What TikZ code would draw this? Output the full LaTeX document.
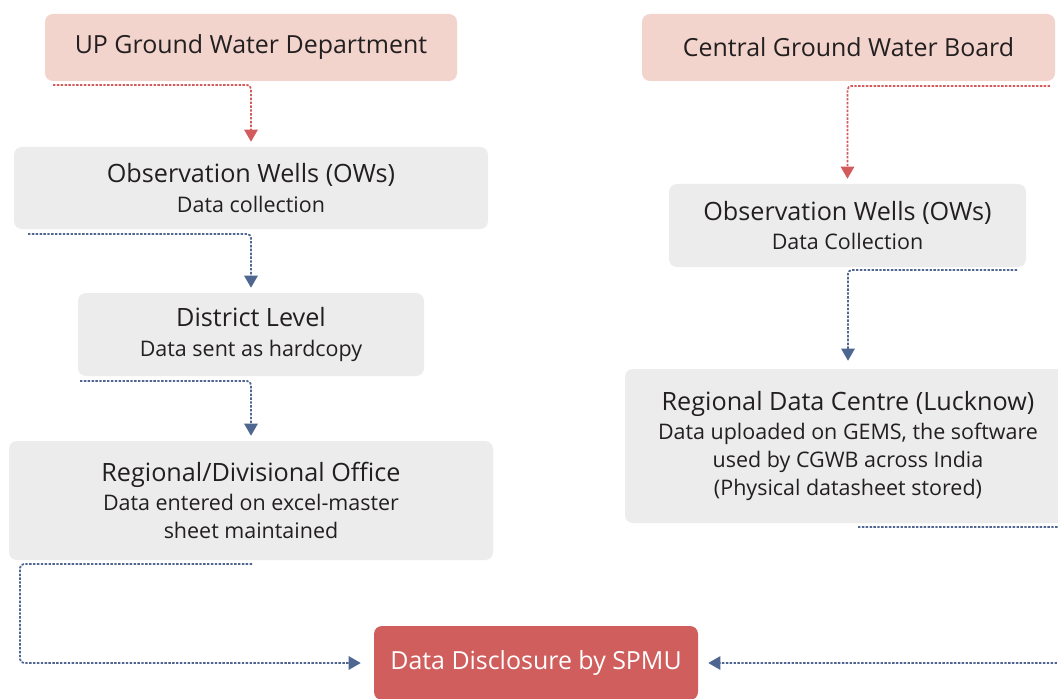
\documentclass[tikz,border=0pt]{standalone}
\usepackage{fontspec}
\setmainfont{Open Sans}
\usetikzlibrary{arrows.meta}
\definecolor{pinkbox}{HTML}{F2D4CC}
\definecolor{graybox}{HTML}{EBECEB}
\definecolor{redbox}{HTML}{CF5E5D}
\definecolor{redline}{HTML}{D45B5B}
\definecolor{blueline}{HTML}{4F6690}
\definecolor{txt}{HTML}{231F20}
\tikzset{
  box/.style={rounded corners=6pt, inner sep=0pt, align=center, text=txt, font=\fontsize{16.1}{21}\selectfont},
  pinkb/.style={box, fill=pinkbox, font=\fontsize{18.7}{22}\selectfont},
  grayb/.style={box, fill=graybox},
  spmub/.style={box, fill=redbox, text=white, font=\fontsize{18.7}{22}\selectfont},
  conn/.style={line width=1.35pt, dash pattern=on 1.8pt off 1.1pt, rounded corners=3pt, -{Triangle[width=10pt,length=9pt]}},
  redc/.style={conn, draw=redline, redline},
  bluec/.style={conn, draw=blueline, blueline},
}
\newcommand{\ttl}[1]{{\fontsize{18.9}{23}\selectfont #1}\\[1pt]}
\begin{document}
\begin{tikzpicture}[x=0.75pt,y=-0.75pt]
\useasboundingbox (0,0) rectangle (1058,699);
\clip (0,0) rectangle (1058,699);
\fill[white] (0,0) rectangle (1058,699);
% left column
\node[pinkb, minimum width=309pt, minimum height=50.25pt] (ugwd) at (251,47.5) {UP Ground Water Department};
\node[grayb, minimum width=355.5pt, minimum height=61.5pt] (ow1) at (251,188) {\ttl{Observation Wells (OWs)}Data collection};
\node[grayb, minimum width=259.5pt, minimum height=62.25pt] (dist) at (251,334.5) {\ttl{District Level}Data sent as hardcopy};
\node[grayb, minimum width=363pt, minimum height=89.25pt] (reg) at (251,500.5) {\ttl{Regional/Divisional Office}Data entered on excel-master\\sheet maintained};
% bottom
\node[spmub, minimum width=243pt, minimum height=55.5pt] (spmu) at (536,663) {Data Disclosure by SPMU};
% right column
\node[pinkb, minimum width=309.75pt, minimum height=50.25pt] (cgwb) at (848.5,47.5) {Central Ground Water Board};
\node[grayb, minimum width=267.75pt, minimum height=62.25pt] (ow2) at (847.5,225.5) {\ttl{Observation Wells (OWs)}Data Collection};
\node[grayb, minimum width=334.5pt, minimum height=115.5pt] (rdc) at (848,446) {\ttl{Regional Data Centre (Lucknow)}Data uploaded on GEMS, the software\\used by CGWB across India\\(Physical datasheet stored)};
% connector start points
\coordinate (s1) at (53,85);
\coordinate (s2) at (28,234);
\coordinate (s3) at (80,381);
\coordinate (s4) at (252,564);
\coordinate (s5) at (1050,86);
\coordinate (s6) at (1017,270);
\coordinate (s7) at (858,527);
% connectors
\draw[redc, shorten >=3.75pt] (s1) -| (ow1.north);
\draw[bluec, shorten >=3.75pt] (s2) -| (dist.north);
\draw[bluec, shorten >=3.75pt] (s3) -| (reg.north);
\draw[bluec, shorten >=9.75pt] (s4) -- (20,564) |- (spmu.west);
\draw[redc, shorten >=3.75pt] (s5) -| (ow2.north);
\draw[bluec, shorten >=6pt] (s6) -| (rdc.north);
\draw[bluec, shorten >=7.5pt] (s7) -- (1075,527) |- (spmu.east);
\end{tikzpicture}
\end{document}
